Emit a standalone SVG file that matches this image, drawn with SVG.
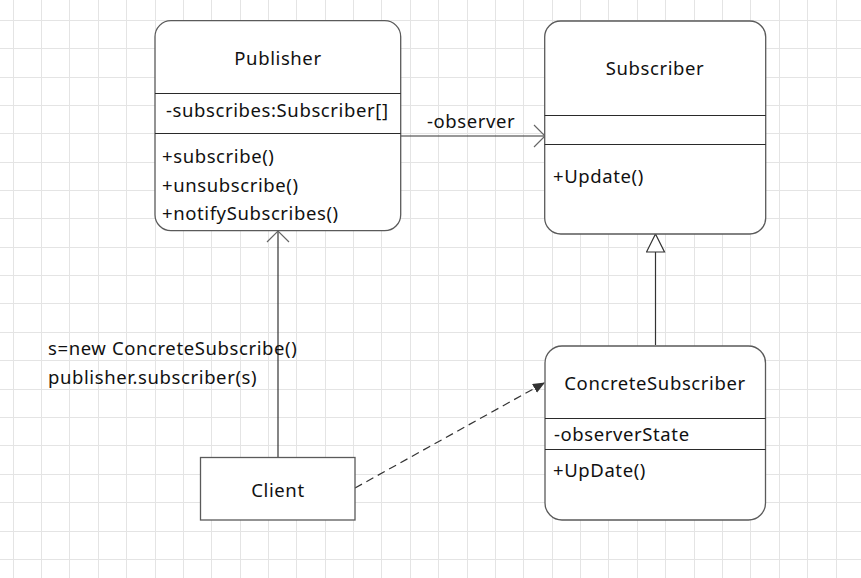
<svg xmlns="http://www.w3.org/2000/svg" width="861" height="578" viewBox="0 0 861 578">
<style>
.grid{stroke:#e4e4e4;stroke-width:1;fill:none}
.box{fill:#fff;stroke:#5a5a5a;stroke-width:1.3}
.div{stroke:#2a2a2a;stroke-width:1}
.t{font-family:"Noto Sans","Open Sans",sans-serif;font-size:18.5px;letter-spacing:0.6px;fill:#111}
.c{text-anchor:middle}
.ln{stroke:#333;stroke-width:1.2;fill:none}
</style>
<defs>
<marker id="open" markerWidth="14" markerHeight="24" refX="12" refY="12" orient="auto" markerUnits="userSpaceOnUse">
<path d="M1,1 L12,12 L1,23" fill="none" stroke="#666" stroke-width="1.2"/>
</marker>
<marker id="tri" markerWidth="20" markerHeight="22" refX="19" refY="10" orient="auto" markerUnits="userSpaceOnUse">
<path d="M1,1 L19,10 L1,19 Z" fill="#fff" stroke="#333" stroke-width="1.2"/>
</marker>
<marker id="fill" markerWidth="14" markerHeight="12" refX="12" refY="5" orient="auto" markerUnits="userSpaceOnUse">
<path d="M0,0 L12,5 L0,10 Z" fill="#333"/>
</marker>
</defs>
<rect width="861" height="578" fill="#fff"/>
<path class="grid" d="M13.5,0V578M41.5,0V578M69.5,0V578M98.5,0V578M126.5,0V578M155.5,0V578M183.5,0V578M211.5,0V578M240.5,0V578M268.5,0V578M296.5,0V578M325.5,0V578M353.5,0V578M381.5,0V578M410.5,0V578M438.5,0V578M467.5,0V578M495.5,0V578M523.5,0V578M552.5,0V578M580.5,0V578M608.5,0V578M637.5,0V578M665.5,0V578M694.5,0V578M722.5,0V578M750.5,0V578M779.5,0V578M807.5,0V578M836.5,0V578M0,20.5H861M0,48.5H861M0,77.5H861M0,105.5H861M0,133.5H861M0,162.5H861M0,190.5H861M0,218.5H861M0,247.5H861M0,275.5H861M0,303.5H861M0,332.5H861M0,360.5H861M0,389.5H861M0,417.5H861M0,445.5H861M0,474.5H861M0,502.5H861M0,531.5H861M0,559.5H861"/>

<g id="connectors">
<line class="ln" x1="401" y1="136" x2="545" y2="136" marker-end="url(#open)"/>
<line class="ln" x1="278" y1="457" x2="278" y2="231" marker-end="url(#open)"/>
<line class="ln" x1="655.5" y1="345" x2="655.5" y2="234" marker-end="url(#tri)"/>
<line class="ln" x1="355" y1="488" x2="545" y2="382.5" stroke-dasharray="8,5" marker-end="url(#fill)"/>
<text class="t" x="427" y="127.5">-observer</text>
<text class="t" x="48" y="354.5">s=new ConcreteSubscribe()</text>
<text class="t" x="48" y="383.5">publisher.subscriber(s)</text>
</g>

<g id="publisher">
<rect class="box" x="155" y="20.7" width="245.7" height="210" rx="16"/>
<line class="div" x1="155" y1="93.5" x2="400.7" y2="93.5"/>
<line class="div" x1="155" y1="133.5" x2="400.7" y2="133.5"/>
<text class="t c" x="278" y="64.5">Publisher</text>
<text class="t" x="166" y="116.7">-subscribes:Subscriber[]</text>
<text class="t" x="162" y="163.3">+subscribe()</text>
<text class="t" x="162" y="191.7">+unsubscribe()</text>
<text class="t" x="162" y="220">+notifySubscribes()</text>
</g>

<g id="subscriber">
<rect class="box" x="544.7" y="21" width="221" height="213" rx="16"/>
<line class="div" x1="544.7" y1="115.5" x2="765.7" y2="115.5"/>
<line class="div" x1="544.7" y1="144.5" x2="765.7" y2="144.5"/>
<text class="t c" x="655" y="75">Subscriber</text>
<text class="t" x="553" y="182.7">+Update()</text>
</g>

<g id="concreteSubscriber">
<rect class="box" x="545" y="346" width="220.5" height="174" rx="17"/>
<line class="div" x1="545" y1="418.5" x2="765.5" y2="418.5"/>
<line class="div" x1="545" y1="449.5" x2="765.5" y2="449.5"/>
<text class="t c" x="655" y="390">ConcreteSubscriber</text>
<text class="t" x="554" y="440.7">-observerState</text>
<text class="t" x="553" y="477.3">+UpDate()</text>
</g>

<g id="client">
<rect class="box" x="200.5" y="457.5" width="154.5" height="62.5" rx="0"/>
<text class="t c" x="278" y="496.7">Client</text>
</g>
</svg>
